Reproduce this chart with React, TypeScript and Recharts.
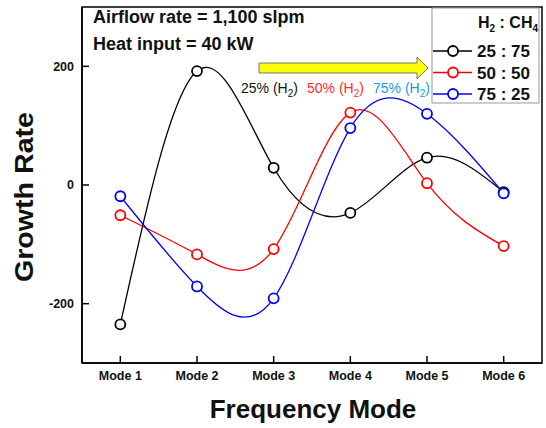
import { LineChart, Line, XAxis, YAxis, ReferenceArea } from "recharts";

const modes = [1, 2, 3, 4, 5, 6];
const h2_25 = [-235, 192, 29, -47, 46, -12];
const h2_50 = [-51, -117, -108, 122, 3, -103];
const h2_75 = [-19, -171, -191, 96, 120, -14];
const yTicks = [-200, 0, 200];
const legendLabels = ["25 : 75", "50 : 50", "75 : 25"];
const ratioLabels = ["25%", "50%", "75%"];

const chartData = modes.map((m, i) => ({
  mode: m,
  h25: h2_25[i],
  h50: h2_50[i],
  h75: h2_75[i]
}));

const FONT = "'Liberation Sans', Arial, sans-serif";
const seriesColors = ["#000000", "#ff0000", "#0000ff"];
const labelColors = ["#111111", "#ff2a2a", "#2196e8"];

export default function App() {
  return (
    <div style={{ position: "absolute", left: 0, top: 0, width: 546, height: 428, background: "#fff", fontFamily: FONT }}>
      <LineChart
        width={546}
        height={428}
        data={chartData}
        margin={{ top: 7, right: 4, left: 22, bottom: 25 }}
      >
        <ReferenceArea x1={0.5} x2={6.5} y1={-300} y2={300} fill="none" stroke="#000" strokeWidth={1.5} ifOverflow="visible" />
        <XAxis
          dataKey="mode"
          type="number"
          domain={[0.5, 6.5]}
          ticks={modes}
          allowDataOverflow
          tickFormatter={(v: number) => `Mode ${v}`}
          height={40}
          stroke="#000"
          strokeWidth={1.5}
          tickSize={-7}
          tickMargin={15}
          tick={{ fill: "#111", fontSize: 12.5, fontWeight: 700, fontFamily: FONT }}
        />
        <YAxis
          type="number"
          domain={[-300, 300]}
          ticks={yTicks}
          allowDataOverflow
          width={60}
          stroke="#000"
          strokeWidth={1.5}
          tickSize={-7}
          tickMargin={15}
          tick={{ fill: "#111", fontSize: 12.5, fontWeight: 700, fontFamily: FONT }}
        />
        {["h25", "h50", "h75"].map((k, i) => (
          <Line
            key={k}
            type="natural"
            dataKey={k}
            stroke={seriesColors[i]}
            strokeWidth={1.3}
            dot={{ r: 5, fill: "#fff", stroke: seriesColors[i], strokeWidth: 1.8 }}
            isAnimationActive={false}
          />
        ))}
      </LineChart>

      {/* annotations, arrow and legend on top */}
      <svg width={546} height={428} style={{ position: "absolute", left: 0, top: 0, pointerEvents: "none" }} fontFamily={FONT}>
        <text x={93} y={23} fontSize={18} fontWeight={700} fill="#111">Airflow rate = 1,100 slpm</text>
        <text x={93} y={50} fontSize={18} fontWeight={700} fill="#111">Heat input = 40 kW</text>

        <polygon
          points="259,63 417,63 417,57 428,68 417,79 417,73 259,73"
          fill="#ffff00"
          stroke="#777"
          strokeWidth={1}
        />

        {ratioLabels.map((r, i) => (
          <text key={r} x={241 + i * 66} y={93} fontSize={14} fill={labelColors[i]}>
            {r} (H<tspan dy={4} fontSize={10}>2</tspan><tspan dy={-4}>)</tspan>
          </text>
        ))}

        <rect x={432} y={8} width={107} height={95} fill="#fff" stroke="#999" strokeWidth={1} />
        <text x={538} y={28} fontSize={16} fontWeight={700} fill="#111" textAnchor="end">
          H<tspan dy={4} fontSize={10}>2</tspan><tspan dy={-4}> : CH</tspan><tspan dy={4} fontSize={10}>4</tspan>
        </text>
        {legendLabels.map((l, i) => {
          const cy = 51 + i * 21.5;
          return (
            <g key={l}>
              <line x1={433} x2={472} y1={cy} y2={cy} stroke={seriesColors[i]} strokeWidth={1.3} />
              <circle cx={453} cy={cy} r={5} fill="#fff" stroke={seriesColors[i]} strokeWidth={1.8} />
              <text x={477} y={cy + 6} fontSize={17} fontWeight={700} fill="#111">{l}</text>
            </g>
          );
        })}

        <text x={313} y={418} fontSize={26} fontWeight={700} fill="#111" textAnchor="middle">Frequency Mode</text>
        <text
          x={0}
          y={0}
          fontSize={26}
          fontWeight={700}
          fill="#111"
          textAnchor="middle"
          transform="translate(33,197) rotate(-90) scale(1.1,1)"
        >
          Growth Rate
        </text>
      </svg>
    </div>
  );
}
